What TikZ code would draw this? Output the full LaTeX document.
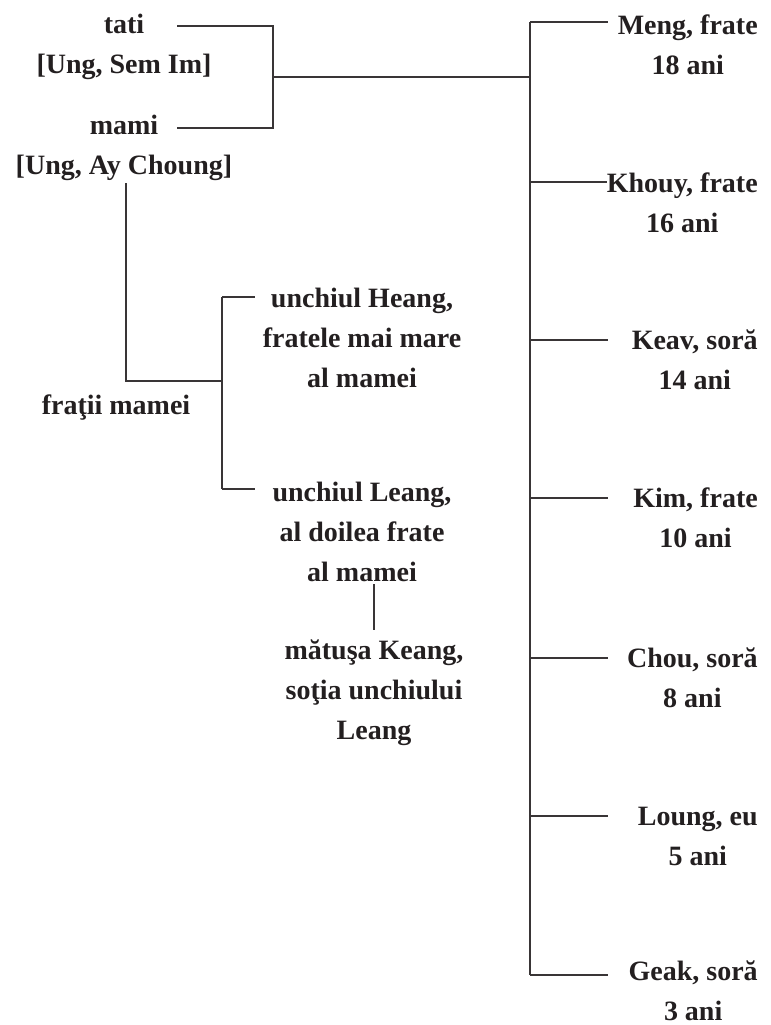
\documentclass[tikz,border=0pt]{standalone}
\usepackage{fontspec}
\setmainfont{Liberation Serif}
\usetikzlibrary{positioning}
\definecolor{ink}{HTML}{231F20}

\begin{document}
\begin{tikzpicture}[x=0.75pt, y=-0.75pt, every node/.style={font=\bfseries\fontsize{21}{30}\selectfont, text=ink, align=center, inner sep=0pt}, link/.style={draw=ink!90, line width=0.8pt}, kid/.style={anchor=east}]
\useasboundingbox (0,0) rectangle (771,1025);
% parents
\node (tati) at (124,47) {tati\\ {[}Ung, Sem Im{]}};
\node (mami) at (124,148) {mami\\ {[}Ung, Ay Choung{]}};
\node (frati) at (116,408) {fra\c{t}ii mamei};
\node (heang) at (362,338) {unchiul Heang,\\ fratele mai mare\\ al mamei};
\node (leang) at (362,532) {unchiul Leang,\\ al doilea frate\\ al mamei};
\node (keang) at (374,693) {mătuşa Keang,\\ so\c{t}ia unchiului\\ Leang};
% children
\node[kid] (meng) at (758,45) {Meng, frate\\ 18 ani};
\node[kid] (khouy) at (758,203) {Khouy, frate\\ 16 ani};
\node[kid] (keav) at (758,360) {Keav, soră\\ 14 ani};
\node[kid] (kim) at (758,518) {Kim, frate\\ 10 ani};
\node[kid] (chou) at (758,678) {Chou, soră\\ 8 ani};
\node[kid] (loung) at (758,836) {Loung, eu\\ 5 ani};
\node[kid] (geak) at (758,991) {Geak, soră\\ 3 ani};
% junctions
\coordinate (tatiR) at (177,26);
\coordinate (mamiR) at (177,128);
\coordinate (pT) at (273,26);
\coordinate (pB) at (273,128);
\coordinate (pM) at (273,77);
\coordinate (kT) at (530,22);
\coordinate (kB) at (530,975);
\coordinate (mamiD) at (126,183);
\coordinate (fJ) at (126,381);
\coordinate (uM) at (222,381);
\coordinate (uT) at (222,297);
\coordinate (uB) at (222,489);
\coordinate (leangD) at (374,584);
\coordinate (keangU) at (374,630);
\draw[link] (tatiR) -- (pT) -- (pB) -- (mamiR);
\draw[link] (pM) -- (pM -| kT);
\draw[link] (kT) -- (kB);
\foreach \c/\y in {meng/22, keav/340, kim/498, chou/658, loung/816, geak/975}
  \draw[link] (530,\y) -- (608,\y);
\draw[link] (530,182) -- (khouy.west |- 530,182);
\draw[link] (mamiD) -- (fJ) -- (uM);
\draw[link] (uT) -- (uB);
\draw[link] (uT) -- ++(33,0);
\draw[link] (uB) -- ++(33,0);
\draw[link] (leangD) -- (keangU);
\end{tikzpicture}
\end{document}
